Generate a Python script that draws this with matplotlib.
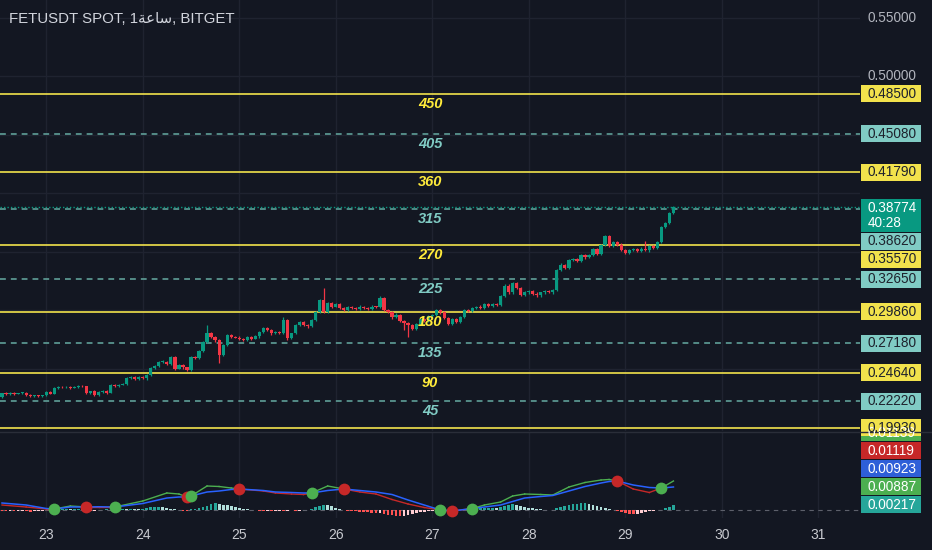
import matplotlib
matplotlib.use("Agg")
import matplotlib.pyplot as plt
from matplotlib.patches import Rectangle

# FETUSDT spot, 1h candles, Bitget
title = "FETUSDT SPOT, 1\ufe94\ufecb\ufe8e\ufeb3, BITGET"

first_open = 0.2258
closes = [
    0.2290, 0.2282, 0.2292, 0.2285, 0.2290, 0.2295, 0.2275, 0.2265, 0.2272, 0.2262,
    0.2270, 0.2299, 0.2285, 0.2333, 0.2342, 0.2338, 0.2345, 0.2335, 0.2342, 0.2352,
    0.2348, 0.2292, 0.2305, 0.2270, 0.2300, 0.2310, 0.2295, 0.2359, 0.2350, 0.2362,
    0.2367, 0.2419, 0.2427, 0.2410, 0.2427, 0.2415, 0.2445, 0.2504, 0.2521, 0.2556,
    0.2560, 0.2540, 0.2598, 0.2500, 0.2530, 0.2510, 0.2487, 0.2598, 0.2590, 0.2650,
    0.2727, 0.2804, 0.2769, 0.2740, 0.2615, 0.2700, 0.2786, 0.2770, 0.2765, 0.2752,
    0.2745, 0.2770, 0.2755, 0.2775, 0.2810, 0.2846, 0.2830, 0.2800, 0.2815, 0.2805,
    0.2914, 0.2760, 0.2800, 0.2872, 0.2900, 0.2872, 0.2860, 0.2914, 0.2983, 0.3085,
    0.2983, 0.3060, 0.3030, 0.3050, 0.3020, 0.3000, 0.3025, 0.3015, 0.3005, 0.3030,
    0.3020, 0.3010, 0.3030, 0.3025, 0.3103, 0.3000, 0.2983, 0.2940, 0.2960, 0.2910,
    0.2890, 0.2872, 0.2840, 0.2880, 0.2920, 0.2905, 0.2945, 0.2960, 0.3000, 0.2980,
    0.2930, 0.2880, 0.2920, 0.2900, 0.2940, 0.3000, 0.2990, 0.3020, 0.3030, 0.3015,
    0.3050, 0.3035, 0.3055, 0.3040, 0.3120, 0.3205, 0.3150, 0.3231, 0.3190, 0.3130,
    0.3150, 0.3165, 0.3140, 0.3125, 0.3150, 0.3160, 0.3150, 0.3171, 0.3342, 0.3385,
    0.3360, 0.3427, 0.3435, 0.3420, 0.3470, 0.3450, 0.3470, 0.3521, 0.3480, 0.3556,
    0.3633, 0.3547, 0.3580, 0.3560, 0.3513, 0.3487, 0.3510, 0.3525, 0.3505, 0.3525,
    0.3510, 0.3545, 0.3530, 0.3581, 0.3709, 0.3744, 0.3829, 0.38774,
]
# wick lengths above / below the body, in units of 0.0001
upper_wick = [
    5, 8, 4, 6, 5, 7, 4, 6, 5, 4,
    6, 8, 5, 9, 6, 5, 7, 4, 6, 8,
    5, 4, 6, 8, 5, 6, 4, 8, 5, 6,
    7, 9, 6, 5, 8, 6, 7, 9, 8, 6,
    9, 7, 12, 8, 6, 7, 5, 10, 7, 8,
    9, 68, 10, 8, 9, 10, 12, 8, 7, 9,
    6, 8, 7, 9, 8, 10, 7, 6, 9, 8,
    26, 9, 7, 10, 8, 9, 7, 8, 10, 9,
    103, 10, 8, 9, 7, 6, 9, 8, 7, 10,
    8, 7, 9, 8, 14, 10, 8, 9, 12, 8,
    9, 10, 8, 12, 9, 8, 10, 9, 8, 7,
    9, 8, 10, 9, 8, 10, 9, 8, 7, 9,
    8, 10, 7, 9, 12, 14, 16, 12, 10, 9,
    11, 8, 9, 10, 8, 7, 9, 10, 12, 14,
    10, 9, 12, 10, 9, 8, 10, 12, 9, 8,
    11, 9, 10, 8, 12, 9, 10, 8, 9, 10,
    65, 8, 9, 10, 12, 10, 9, 8,
]
lower_wick = [
    6, 5, 7, 8, 5, 6, 9, 5, 7, 6,
    8, 5, 7, 6, 8, 5, 6, 7, 5, 9,
    6, 10, 7, 8, 6, 5, 9, 7, 6, 8,
    5, 7, 6, 8, 7, 6, 9, 7, 8, 6,
    8, 9, 7, 12, 8, 10, 9, 7, 8, 9,
    8, 10, 9, 11, 68, 9, 8, 10, 7, 9,
    8, 7, 9, 6, 10, 8, 9, 11, 8, 9,
    8, 12, 9, 8, 10, 9, 11, 8, 9, 10,
    12, 9, 10, 8, 9, 11, 8, 10, 9, 8,
    10, 9, 8, 9, 10, 12, 9, 14, 10, 11,
    60, 102, 12, 10, 9, 11, 8, 10, 9, 11,
    10, 9, 12, 10, 9, 8, 10, 9, 11, 8,
    9, 10, 8, 9, 8, 10, 11, 12, 10, 9,
    11, 10, 9, 12, 10, 9, 8, 11, 9, 10,
    9, 11, 10, 9, 12, 10, 9, 11, 10, 12,
    10, 12, 9, 11, 10, 12, 11, 9, 10, 11,
    9, 10, 8, 9, 8, 7, 6, 5,
]

# horizontal levels
yellow_levels = [0.4850, 0.4179, 0.3557, 0.2986, 0.2464, 0.1993]
yellow_names = ["450", "360", "270", "180", "90", ""]
teal_levels = [0.4508, 0.3862, 0.3265, 0.2718, 0.2222]
teal_names = ["405", "315", "225", "135", "45"]
price_ticks = [0.55, 0.50, 0.45, 0.40, 0.35, 0.30, 0.25, 0.20]
countdown = "40:28"

# x axis: candle index of each midnight
day_pos = [11, 35, 59, 83, 107, 131, 155, 179, 203]
day_labels = ["23", "24", "25", "26", "27", "28", "29", "30", "31"]

# lower pane (macd-style oscillator)
hist = [
    -3, -4, -3, -5, -4, -3, -5, -6, -4, -3, -2,
    -1, 1,
    3, 4, 4, 5, 3, 4, 5, 3,
    -2, -3, -2, 1, 2, 3, 2,
    4, 5, 6, 5, 6, 5, 4, 5,
    8, 11, 13, 14, 12, 10,
    6, 3, 1, -2, -3,
    3, 6, 9, 13, 18, 24, 28, 26, 22, 20,
    16, 12, 9, 6, 3, 1, -1,
    -2, -3, -2, -4, -3, -2, -3, -2, -1, -3, -2, -1, 1,
    6, 12, 18, 22, 19, 15, 10, 6,
    -1, -3, -4, -5, -6, -8, -9, -11, -13, -12, -15, -18, -20, -22, -24,
    -22, -18, -14, -10, -8, -6, -4, -2, -1,
    2, 1, -1, -2, -1, 1, 2, 3,
    4, 6, 7, 8, 9, 10, 9,
    14, 18, 22, 24, 21, 17, 13,
    10, 7, 5, 3, 2, 1, 1,
    8, 14, 18, 22, 24, 26, 27, 28, 26, 22,
    17, 12, 8, 4, 1,
    -4, -8, -12, -15, -16, -14, -11, -8, -5,
    -3, -1, 2, 8, 14, 22,
]  # units of 0.0001
osc_idx = [0, 6, 11, 13, 17, 21, 24, 28, 35, 41,
           44, 46, 47, 51, 54, 57, 59, 65, 68, 72,
           75, 77, 81, 85, 89, 93, 97, 101, 105, 109,
           112, 117, 120, 124, 127, 130, 134, 137, 141, 145,
           149, 151, 153, 157, 161, 164, 167]
macd = [0.0020, 0.0012, 0.0004, 0.0004, 0.0016, 0.0012, 0.0012, 0.0012, 0.0036, 0.0068,
        0.0064, 0.0052, 0.0056, 0.0096, 0.0094, 0.0088, 0.0084, 0.0076, 0.0068, 0.0064,
        0.0062, 0.0068, 0.0096, 0.0084, 0.0072, 0.0064, 0.0042, 0.0024, 0.0010, 0.0000,
        -0.0004, 0.0006, 0.0020, 0.0032, 0.0056, 0.0064, 0.0062, 0.0060, 0.0092, 0.0110,
        0.0120, 0.0122, 0.0116, 0.0084, 0.0070, 0.0088, 0.0116]
signal = [0.0028, 0.0020, 0.0006, 0.0004, 0.0012, 0.0012, 0.0013, 0.0012, 0.0026, 0.0048,
          0.0052, 0.0052, 0.0056, 0.0072, 0.0076, 0.0082, 0.0084, 0.0078, 0.0072, 0.0070,
          0.0068, 0.0068, 0.0078, 0.0084, 0.0078, 0.0072, 0.0062, 0.0040, 0.0020, 0.0000,
          -0.0004, 0.0006, 0.0012, 0.0020, 0.0034, 0.0048, 0.0054, 0.0058, 0.0076, 0.0094,
          0.0108, 0.0114, 0.0116, 0.0100, 0.0090, 0.0088, 0.0092]
cross_idx = [13, 21, 28, 46, 47, 59, 77, 85, 109, 112, 117, 153, 164]
cross_dir = ["up", "down", "up", "down", "up", "down", "up", "down", "up", "down", "up", "down", "up"]
osc_labels = [0.01139, 0.01119, 0.00923, 0.00887, 0.00217]
osc_label_colors = ["#4caf50", "#c62828", "#2e5fd8", "#4caf50", "#26a69a"]

BG = "#131722"
GRID = "#1f2330"
TXT = "#b2b5be"
UP = "#089981"
DOWN = "#f23645"
YEL = "#f2e24c"
TEAL = "#80cbc4"

plt.rcParams["font.family"] = ["Liberation Sans", "DejaVu Sans"]

W, H = 932, 550
fig = plt.figure(figsize=(W / 100, H / 100), dpi=100, facecolor=BG)
ax = fig.add_axes([0, 119 / H, 860 / W, 431 / H], facecolor=BG)
ax2 = fig.add_axes([0, 32 / H, 860 / W, 86 / H], facecolor=BG)
for a in (ax, ax2):
    for s in a.spines.values():
        s.set_visible(False)
    a.set_xticks([])
    a.set_yticks([])
    a.set_xlim(-0.5, 213.4)
    for d in day_pos:
        a.axvline(d, color=GRID, lw=1, zorder=0)
ax.set_ylim(0.1966, 0.5650)
ax2.set_ylim(-0.0032, 0.0312)
for t in price_ticks:
    ax.axhline(t, color=GRID, lw=1, zorder=0)

# candles
n = len(closes)
opens = [first_open] + closes[:-1]
for i in range(n):
    o, c = opens[i], closes[i]
    col = UP if c >= o else DOWN
    hi = max(o, c) + upper_wick[i] * 1e-4
    lo = min(o, c) - lower_wick[i] * 1e-4
    ax.vlines(i, lo, hi, color=col, lw=0.9, zorder=3)
    ax.bar(i, max(abs(c - o), 0.0006), bottom=min(o, c), width=0.8,
           color=col, edgecolor="none", zorder=4)

# levels and their names
for lv, nm in zip(yellow_levels, yellow_names):
    ax.axhline(lv, color=YEL, lw=1.2, zorder=2)
    if nm:
        ax.annotate(nm, (106.5, lv), xytext=(0, -10), textcoords="offset pixels",
                    ha="center", va="center", color="#ffeb3b", fontsize=10.5,
                    fontweight="bold", fontstyle="italic", zorder=5)
for lv, nm in zip(teal_levels, teal_names):
    ax.axhline(lv, color="#5f9f98", lw=1.2, ls=(0, (3.5, 3)), zorder=2)
    ax.annotate(nm, (106.5, lv), xytext=(0, -10), textcoords="offset pixels",
                ha="center", va="center", color=TEAL, fontsize=10.5,
                fontweight="bold", fontstyle="italic", zorder=5)
ax.axhline(closes[-1], color=UP, lw=1, ls=(0, (1, 1.5)), zorder=2)

# oscillator pane
ax2.axhline(0, color="#5d606b", lw=0.8, ls=(0, (4, 4)), zorder=1)
prev = 0
for i, h in enumerate(hist):
    if h >= 0:
        col = "#26a69a" if h >= prev else "#b2dfdb"
    else:
        col = "#ff5252" if h < prev else "#ffcdd2"
    ax2.bar(i, h * 1e-4, width=0.7, color=col, edgecolor="none", zorder=2)
    prev = h

state = "down"
for k in range(len(osc_idx) - 1):
    for ci, cd in zip(cross_idx, cross_dir):
        if ci == osc_idx[k]:
            state = cd
    col = "#4caf50" if state == "up" else "#c62828"
    ax2.plot(osc_idx[k:k + 2], macd[k:k + 2], color=col, lw=1, zorder=3)
ax2.plot(osc_idx, signal, color="#2962ff", lw=1.1, zorder=4)
for ci, cd in zip(cross_idx, cross_dir):
    v = macd[osc_idx.index(ci)]
    ax2.plot(ci, v, "o", ms=8.5, mec="none",
             color="#4caf50" if cd == "up" else "#c62828", zorder=5)

# overlay in figure pixels for price scale, labels and title
ov = fig.add_axes([0, 0, 1, 1])
ov.set_xlim(0, W)
ov.set_ylim(H, 0)
ov.axis("off")
ov.patch.set_alpha(0)


def px(a, v):
    return H - a.transData.transform((0, v))[1]


ov.plot([0, W], [431.5, 431.5], color="#2a2e39", lw=1)

for d, lab in zip(day_pos, day_labels):
    x = ax2.transData.transform((d, 0))[0]
    ov.text(x, 535, lab, color="#c8cad0", fontsize=10, ha="center", va="center")

ov.text(9, 19, title, color="#d1d4dc", fontsize=10.8, va="center")

# price labels, pushed downward when they collide
main_boxes = [(lv, YEL) for lv in yellow_levels] + [(lv, TEAL) for lv in teal_levels]
main_boxes.append((closes[-1], UP))
main_boxes.sort(key=lambda b: -b[0])
placed = []
prev_bottom = 0
for v, col in main_boxes:
    top = max(px(ax, v) - 8.5, prev_bottom + 1)
    hgt = 33 if col == UP else 17
    placed.append((v, col, top, hgt))
    prev_bottom = top + hgt

# scale ticks only where no label box sits
for t in price_ticks:
    y = px(ax, t)
    if any(top - 6 < y < top + hgt + 6 for _, _, top, hgt in placed):
        continue
    ov.text(868, y, f"{t:.5f}", color=TXT, fontsize=9.8, va="center")

# oscillator value labels, stacked upward from the bottom
boxes = sorted(zip(osc_labels, osc_label_colors))
bottom = 515
for v, col in boxes:
    b = min(px(ax2, v) + 8.5, bottom)
    ov.add_patch(Rectangle((861, b - 17), 60, 17, facecolor=col, edgecolor="none"))
    ov.text(868, b - 8.5, f"{v:.5f}", color="white", fontsize=9.8, va="center")
    bottom = b - 18

for v, col, top, hgt in placed:
    ov.add_patch(Rectangle((861, top), 60, hgt, facecolor=col, edgecolor="none"))
    if col == UP:
        ov.text(868, top + 9, f"{v:.5f}", color="white", fontsize=9.8, va="center")
        ov.text(868, top + 24, countdown, color="white", fontsize=9.8, va="center")
    else:
        ov.text(868, top + 8.5, f"{v:.5f}", color="#1e222d", fontsize=9.8, va="center")

fig.savefig("out.png", dpi=100, facecolor=BG)
